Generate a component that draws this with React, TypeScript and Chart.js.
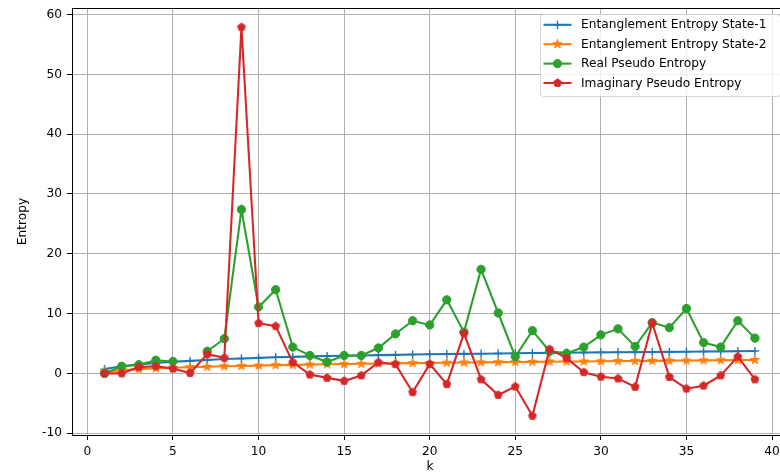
import React, { useEffect, useRef } from "react";
import { Chart, registerables } from "chart.js";

Chart.register(...registerables);

const kValues = [1, 2, 3, 4, 5, 6, 7, 8, 9, 10, 11, 12, 13, 14, 15, 16, 17, 18, 19, 20, 21, 22, 23, 24, 25, 26, 27, 28, 29, 30, 31, 32, 33, 34, 35, 36, 37, 38, 39];

const entState1 = [0.72, 1.2, 1.5, 1.75, 1.95, 2.1, 2.25, 2.4, 2.5, 2.6, 2.7, 2.77, 2.85, 2.9, 2.95, 3.0, 3.05, 3.1, 3.15, 3.2, 3.24, 3.27, 3.3, 3.33, 3.37, 3.4, 3.43, 3.46, 3.49, 3.52, 3.54, 3.56, 3.58, 3.6, 3.62, 3.65, 3.68, 3.71, 3.74];

const entState2 = [0.3, 0.55, 0.7, 0.85, 0.95, 1.05, 1.1, 1.2, 1.25, 1.3, 1.38, 1.42, 1.47, 1.52, 1.56, 1.6, 1.64, 1.68, 1.72, 1.75, 1.78, 1.82, 1.85, 1.88, 1.9, 1.93, 1.96, 1.98, 2.0, 2.03, 2.06, 2.08, 2.1, 2.13, 2.15, 2.18, 2.2, 2.22, 2.25];

const realPseudo = [0.0, 1.2, 1.45, 2.2, 2.0, null, 3.7, 5.8, 27.4, 11.1, 14.0, 4.4, 3.0, 1.9, 3.0, 3.0, 4.25, 6.6, 8.8, 8.1, 12.3, 6.9, 17.4, 10.1, 2.8, 7.15, 3.7, 3.35, 4.4, 6.45, 7.45, 4.5, 8.5, 7.65, 10.85, 5.15, 4.4, 8.8, 5.9];

const imagPseudo = [0.0, 0.0, 1.05, 1.2, 0.8, 0.05, 3.2, 2.6, 57.9, 8.4, 7.9, 1.85, -0.2, -0.75, -1.25, -0.35, 1.85, 1.55, -3.15, 1.55, -1.8, 6.7, -1.0, -3.6, -2.2, -7.1, 4.05, 2.55, 0.2, -0.55, -0.85, -2.25, 8.4, -0.6, -2.55, -2.05, -0.35, 2.8, -1.0];

const seriesLabels = [
  "Entanglement Entropy State-1",
  "Entanglement Entropy State-2",
  "Real Pseudo Entropy",
  "Imaginary Pseudo Entropy",
];
const seriesColors = ["#1f77b4", "#ff7f0e", "#2ca02c", "#d62728"];
const seriesMarkers = ["plus", "star", "circle", "pentagon"];

const xTicks = [0, 5, 10, 15, 20, 25, 30, 35, 40];
const yTicks = [-10, 0, 10, 20, 30, 40, 50, 60];
const xTitle = "k";
const yTitle = "Entropy";

const FONT = "'DejaVu Sans', Verdana, sans-serif";
const FSIZE = 12.2;
const MR = 4.15;

function polyPath(ctx: CanvasRenderingContext2D, cx: number, cy: number, kind: string, r: number) {
  ctx.beginPath();
  if (kind === "star") {
    const inner = r * 0.381966;
    for (let i = 0; i < 10; i++) {
      const rad = i % 2 === 0 ? r : inner;
      const a = -Math.PI / 2 + (i * Math.PI) / 5;
      const px = cx + rad * Math.cos(a);
      const py = cy + rad * Math.sin(a);
      if (i === 0) ctx.moveTo(px, py);
      else ctx.lineTo(px, py);
    }
  } else if (kind === "pentagon") {
    for (let i = 0; i < 5; i++) {
      const a = -Math.PI / 2 + (i * 2 * Math.PI) / 5;
      const px = cx + r * Math.cos(a);
      const py = cy + r * Math.sin(a);
      if (i === 0) ctx.moveTo(px, py);
      else ctx.lineTo(px, py);
    }
  } else if (kind === "circle") {
    ctx.arc(cx, cy, r, 0, Math.PI * 2);
  }
  ctx.closePath();
}

function drawMarker(ctx: CanvasRenderingContext2D, kind: string, cx: number, cy: number, color: string) {
  ctx.save();
  ctx.strokeStyle = color;
  ctx.fillStyle = color;
  if (kind === "plus") {
    ctx.lineWidth = 1.4;
    ctx.beginPath();
    ctx.moveTo(cx - MR, cy);
    ctx.lineTo(cx + MR, cy);
    ctx.moveTo(cx, cy - MR);
    ctx.lineTo(cx, cy + MR);
    ctx.stroke();
  } else {
    const r = kind === "star" ? MR * 1.15 : MR;
    ctx.lineWidth = 1;
    polyPath(ctx, cx, cy, kind, r);
    ctx.fill();
    ctx.stroke();
  }
  ctx.restore();
}

function markerCanvas(kind: string, color: string): HTMLCanvasElement {
  const c = document.createElement("canvas");
  c.width = 14;
  c.height = 14;
  const ctx = c.getContext("2d")!;
  drawMarker(ctx, kind, 7, 7, color);
  return c;
}

const decorPlugin = {
  id: "decor",
  afterDraw(chart: any) {
    const ctx: CanvasRenderingContext2D = chart.ctx;
    const area = chart.chartArea;
    ctx.save();
    ctx.strokeStyle = "#000";
    ctx.lineWidth = 1;
    ctx.beginPath();
    ctx.moveTo(area.left, Math.round(area.top) + 0.5);
    ctx.lineTo(area.right, Math.round(area.top) + 0.5);
    ctx.stroke();

    ctx.fillStyle = "#000";
    ctx.font = `${FSIZE}px ${FONT}`;
    ctx.textAlign = "center";
    ctx.textBaseline = "middle";
    ctx.fillText(xTitle, 430, 467);
    ctx.save();
    ctx.translate(22.5, (area.top + area.bottom) / 2);
    ctx.rotate(-Math.PI / 2);
    ctx.fillText(yTitle, 0, 0);
    ctx.restore();

    const lx = 540.5, ly = 14.5, lw = 240, lh = 82, rr = 3;
    ctx.beginPath();
    ctx.moveTo(lx + rr, ly);
    ctx.lineTo(lx + lw - rr, ly);
    ctx.quadraticCurveTo(lx + lw, ly, lx + lw, ly + rr);
    ctx.lineTo(lx + lw, ly + lh - rr);
    ctx.quadraticCurveTo(lx + lw, ly + lh, lx + lw - rr, ly + lh);
    ctx.lineTo(lx + rr, ly + lh);
    ctx.quadraticCurveTo(lx, ly + lh, lx, ly + lh - rr);
    ctx.lineTo(lx, ly + rr);
    ctx.quadraticCurveTo(lx, ly, lx + rr, ly);
    ctx.closePath();
    ctx.fillStyle = "rgba(255,255,255,0.8)";
    ctx.fill();
    ctx.strokeStyle = "rgba(204,204,204,0.8)";
    ctx.lineWidth = 1;
    ctx.stroke();

    const rows = [24.8, 44.2, 63.6, 83.0];
    seriesLabels.forEach((lab, i) => {
      const y = rows[i];
      ctx.strokeStyle = seriesColors[i];
      ctx.lineWidth = 2.08;
      ctx.beginPath();
      ctx.moveTo(543.5, y);
      ctx.lineTo(571.5, y);
      ctx.stroke();
      drawMarker(ctx, seriesMarkers[i], 557.5, y, seriesColors[i]);
      ctx.fillStyle = "#000";
      ctx.font = `${FSIZE}px ${FONT}`;
      ctx.textAlign = "left";
      ctx.textBaseline = "middle";
      ctx.fillText(lab, 581, y + 0.5);
    });
    ctx.restore();
  },
};

export default function App() {
  const canvasRef = useRef<HTMLCanvasElement | null>(null);

  useEffect(() => {
    const canvas = canvasRef.current;
    if (!canvas) return;
    const seriesData = [entState1, entState2, realPseudo, imagPseudo];
    const datasets = seriesData.map((arr, i) => {
      const kind = seriesMarkers[i];
      let pointStyle: any;
      if (kind === "plus") pointStyle = "cross";
      else if (kind === "circle") pointStyle = "circle";
      else pointStyle = markerCanvas(kind, seriesColors[i]);
      return {
        label: seriesLabels[i],
        data: kValues.map((k, j) => ({ x: k, y: arr[j] })),
        borderColor: seriesColors[i],
        backgroundColor: seriesColors[i],
        borderWidth: 2.08,
        pointStyle,
        pointRadius: MR,
        pointBorderWidth: kind === "plus" ? 1.4 : 1,
        pointBorderColor: seriesColors[i],
        pointBackgroundColor: seriesColors[i],
        showLine: true,
        spanGaps: false,
        tension: 0,
        order: 3 - i,
      };
    });

    const tickFont = { family: FONT, size: FSIZE };
    const chart = new Chart(canvas, {
      type: "scatter",
      data: { datasets: datasets as any },
      options: {
        animation: false,
        responsive: false,
        maintainAspectRatio: false,
        devicePixelRatio: 1,
        layout: { padding: { top: 8, left: 0, right: 0, bottom: 0 } },
        plugins: { legend: { display: false }, tooltip: { enabled: false } },
        scales: {
          x: {
            type: "linear",
            min: -0.9,
            max: 40.9,
            afterBuildTicks: (s: any) => {
              s.ticks = xTicks.map((v) => ({ value: v }));
            },
            afterFit: (s: any) => {
              s.height = 41;
              s.paddingLeft = 0;
              s.paddingRight = 0;
            },
            ticks: { font: tickFont, color: "#000", padding: 5, maxRotation: 0, autoSkip: false },
            grid: { color: "#b0b0b0", lineWidth: 1, tickLength: 5, tickColor: "#000", tickWidth: 1 },
            border: { display: true, color: "#000", width: 1 },
          },
          y: {
            type: "linear",
            min: -10.3,
            max: 61.1,
            afterBuildTicks: (s: any) => {
              s.ticks = yTicks.map((v) => ({ value: v }));
            },
            afterFit: (s: any) => {
              s.width = 72;
              s.paddingTop = 0;
              s.paddingBottom = 0;
            },
            ticks: { font: tickFont, color: "#000", padding: 5, autoSkip: false },
            grid: { color: "#b0b0b0", lineWidth: 1, tickLength: 5, tickColor: "#000", tickWidth: 1 },
            border: { display: true, color: "#000", width: 1 },
          },
        },
      },
      plugins: [decorPlugin],
    });
    return () => chart.destroy();
  }, []);

  return (
    <div
      style={{
        position: "fixed",
        left: 0,
        top: 0,
        width: 780,
        height: 476,
        overflow: "hidden",
        background: "#fff",
      }}
    >
      <canvas ref={canvasRef} width={793} height={476} style={{ display: "block", width: 793, height: 476 }} />
    </div>
  );
}
